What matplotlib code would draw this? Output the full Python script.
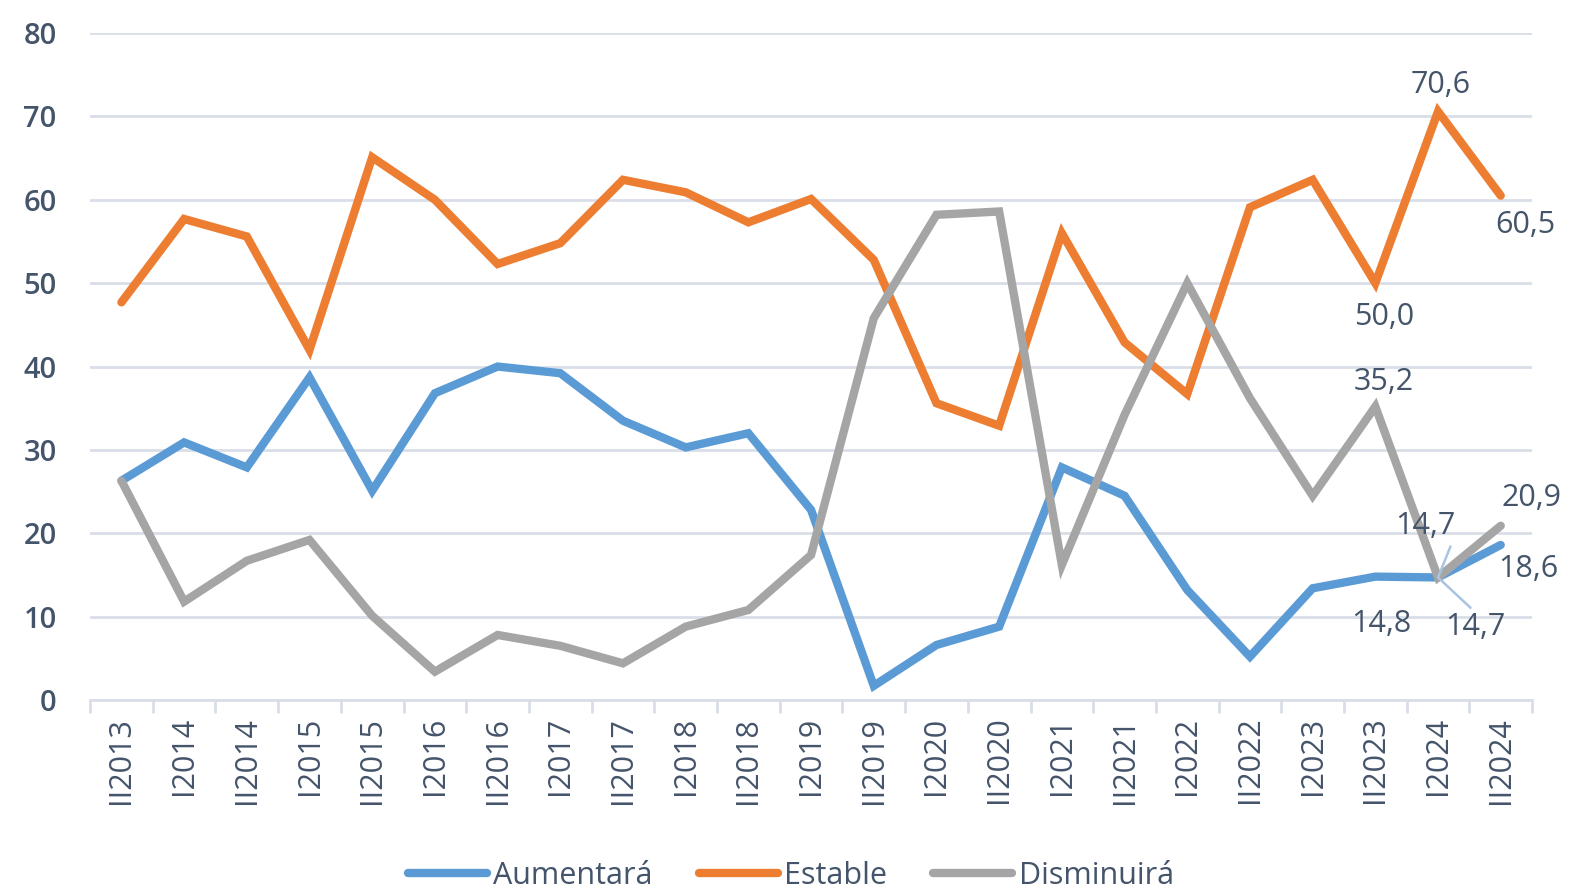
import matplotlib
matplotlib.use("Agg")
import matplotlib.pyplot as plt
from matplotlib.ticker import FixedLocator

plt.rcParams['font.family'] = ['Open Sans', 'DejaVu Sans']

categories = ["II2013", "I2014", "II2014", "I2015", "II2015", "I2016", "II2016", "I2017",
              "II2017", "I2018", "II2018", "I2019", "II2019", "I2020", "II2020", "I2021",
              "II2021", "I2022", "II2022", "I2023", "II2023", "I2024", "II2024"]

aumentara = [26.3, 30.9, 27.9, 38.7, 25.1, 36.8, 40.0, 39.2, 33.5, 30.3, 32.0, 22.8,
             1.7, 6.6, 8.8, 27.9, 24.5, 13.2, 5.2, 13.4, 14.8, 14.7, 18.6]
estable = [47.7, 57.7, 55.6, 42.0, 65.1, 60.0, 52.3, 54.8, 62.4, 60.9, 57.3, 60.1,
           52.8, 35.6, 32.9, 56.0, 42.9, 36.7, 59.1, 62.4, 50.0, 70.6, 60.5]
disminuira = [26.3, 11.8, 16.7, 19.2, 10.1, 3.4, 7.8, 6.5, 4.4, 8.8, 10.8, 17.4,
              45.8, 58.2, 58.6, 16.2, 34.2, 50.0, 36.2, 24.5, 35.2, 14.7, 20.9]

series_names = ["Aumentará", "Estable", "Disminuirá"]
colors = ["#5B9BD5", "#ED7D31", "#A5A5A5"]
text_color = "#44546A"
grid_color = "#D9DEE8"

fig = plt.figure(figsize=(15.72, 8.94), dpi=100)
ax = fig.add_axes([0.0573, 0.217, 0.9173, 0.746])

x = list(range(len(categories)))
for vals, name, c in zip([aumentara, estable, disminuira], series_names, colors):
    ax.plot(x, vals, color=c, lw=6, label=name, solid_joinstyle='miter', solid_capstyle='round')

ax.set_xlim(-0.5, len(categories) - 0.5)
ax.set_ylim(0, 80)
ax.set_yticks(range(0, 81, 10))
ax.yaxis.grid(True, color=grid_color, lw=2)
ax.set_axisbelow(True)
for s in ["top", "right", "left"]:
    ax.spines[s].set_visible(False)
ax.spines["bottom"].set_color(grid_color)
ax.spines["bottom"].set_linewidth(2)

ax.set_xticks(x)
ax.set_xticklabels(categories, rotation=90, fontsize=22, color=text_color)
ax.tick_params(axis='x', which='major', length=0, pad=12)
ax.xaxis.set_minor_locator(FixedLocator([i - 0.5 for i in range(len(categories) + 1)]))
ax.tick_params(axis='x', which='minor', length=9, width=2, color=grid_color)
ax.tick_params(axis='y', length=0, pad=24, labelsize=21, labelcolor=text_color)
for lbl in ax.get_yticklabels():
    lbl.set_fontweight('semibold')

def lab(i, v, dx, dy, relpos=None):
    kw = {}
    if relpos is not None:
        kw['arrowprops'] = dict(arrowstyle='-', color='#A9C4E0', lw=1.8, relpos=relpos,
                                shrinkA=2, shrinkB=0)
    ax.annotate(f"{v:.1f}".replace('.', ','), xy=(i, v), xytext=(dx, dy),
                textcoords='offset points', ha='center', va='center',
                fontsize=22, color=text_color, **kw)

lab(21, estable[21], 2, 19)
lab(22, estable[22], 18, -21)
lab(20, estable[20], 6, -24)
lab(20, disminuira[20], 6, 18)
lab(20, aumentara[20], 4, -34)
lab(21, disminuira[21], -9, 37, relpos=(0.95, 0.0))
lab(21, aumentara[21], 27, -36, relpos=(0.5, 1.0))
lab(22, disminuira[22], 22, 20)
lab(22, aumentara[22], 20, -17)

leg = fig.legend(loc='center', bbox_to_anchor=(0.503, 0.02), ncol=3, frameon=False,
                 fontsize=22, handlelength=2.6, columnspacing=1.5, handletextpad=0.2)
for t in leg.get_texts():
    t.set_color(text_color)

fig.savefig("out.png", dpi=100)
